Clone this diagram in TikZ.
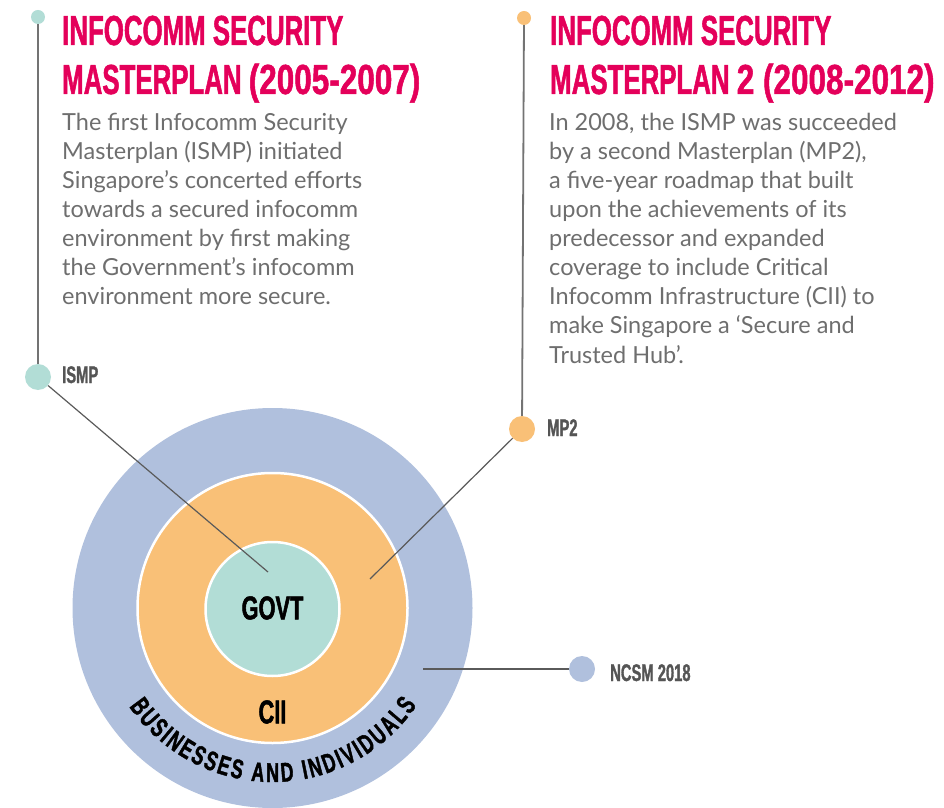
\documentclass[tikz,border=0pt]{standalone}
\usepackage{fontspec}
\usetikzlibrary{decorations.text}
\setmainfont{Lato}
\newfontfamily\cond[FakeStretch=0.615,FakeBold=1.2]{Liberation Sans}
\newfontfamily\condw[FakeStretch=0.75,FakeBold=1.2]{Liberation Sans}
\newfontfamily\condr[FakeStretch=0.66,FakeBold=1.5]{Liberation Sans}
\definecolor{mag}{HTML}{E4005A}
\definecolor{cgreen}{HTML}{B2DDD6}
\definecolor{corange}{HTML}{F9C077}
\definecolor{cblue}{HTML}{B0C0DD}
\definecolor{labgray}{HTML}{555555}
\definecolor{bodygray}{HTML}{6E6E6E}
\definecolor{linegray}{HTML}{5A5A5A}
\tikzset{
  title/.style={anchor=base west, inner sep=0pt, text=mag, font=\cond\bfseries\fontsize{42}{42}\selectfont},
  body/.style={anchor=base west, inner sep=0pt, text=bodygray, font=\fontsize{23.5}{29}\selectfont},
  lab/.style={anchor=base west, inner sep=0pt, text=labgray, font=\cond\bfseries\fontsize{24}{24}\selectfont},
  ring/.style={text=black, font=\condr\bfseries\fontsize{33}{33}\selectfont, inner sep=0pt},
  dot/.style={circle, inner sep=0pt, minimum size=#1},
  vline/.style={draw=linegray!85, line width=1.8pt},
  conn/.style={draw=linegray, line width=1.2pt},
}
\begin{document}
\begin{tikzpicture}[x=1pt,y=1pt]
\useasboundingbox (0,0) rectangle (944,807);
% circles
\fill[cblue] (272.5,199) circle[radius=200];
\draw[fill=corange, draw=white, line width=2.5pt] (272.5,199) circle[radius=135];
\draw[fill=cgreen, draw=white, line width=2.5pt] (272.5,198) circle[radius=67];
\node[ring] (govt) at (272.5,199) {GOVT};
\node[ring] (cii) at (272.5,95) {CII};
\path[decorate, decoration={text along path, text align=fit to path,
   text={|\condr\bfseries\fontsize{27}{27}\selectfont|BUSINESSES AND INDIVIDUALS}}]
   (272.5,199) ++(214.5:174) arc[start angle=214.5, end angle=326, radius=174];
% timelines
\node[dot=14pt, fill=cgreen] (t1) at (38,790) {};
\node[dot=26pt, fill=cgreen] (ismp) at (38,430) {};
\node[dot=14pt, fill=corange] (t2) at (524,789) {};
\node[dot=26pt, fill=corange] (mp2) at (522,378) {};
\node[dot=26pt, fill=cblue] (ncsm) at (582,138) {};
\coordinate (gend) at (268,235);
\coordinate (oend) at (370,228);
\coordinate (bend) at (423,138);
\draw[vline] (t1) -- (ismp);
\draw[vline] (t2) -- (mp2);
\draw[conn] (ismp) -- (gend);
\draw[conn] (mp2) -- (oend);
\draw[conn] (bend) -- (ncsm);
\node[lab] (lismp) at (62,424) {ISMP};
\node[lab] (lmp2) at (547,371) {MP2};
\node[lab] (lncsm) at (610,126) {NCSM 2018};
% titles
\node[title] (ta1) at (62,762) {INFOCOMM SECURITY};
\node[title] (ta2) at (62,713) {MASTERPLAN {\condw\bfseries(2005-2007)}};
\node[title] (tb1) at (550,762) {INFOCOMM SECURITY};
\node[title] (tb2) at (550,713) {MASTERPLAN {\condw\bfseries2 (2008-2012)}};
% body text
\foreach \t [count=\i] in {{The first Infocomm Security},{Masterplan (ISMP) initiated},{Singapore’s concerted efforts},{towards a secured infocomm},{environment by first making},{the Government’s infocomm},{environment more secure.}}
  \node[body] (a\i) at (62,676-29*\i+29) {\t};
\foreach \t [count=\i] in {{In 2008, the ISMP was succeeded},{by a second Masterplan (MP2),},{a five-year roadmap that built},{upon the achievements of its},{predecessor and expanded},{coverage to include Critical},{Infocomm Infrastructure (CII) to},{make Singapore a ‘Secure and},{Trusted Hub’.}}
  \node[body] (b\i) at (549,676-29*\i+29) {\t};
\end{tikzpicture}
\end{document}
